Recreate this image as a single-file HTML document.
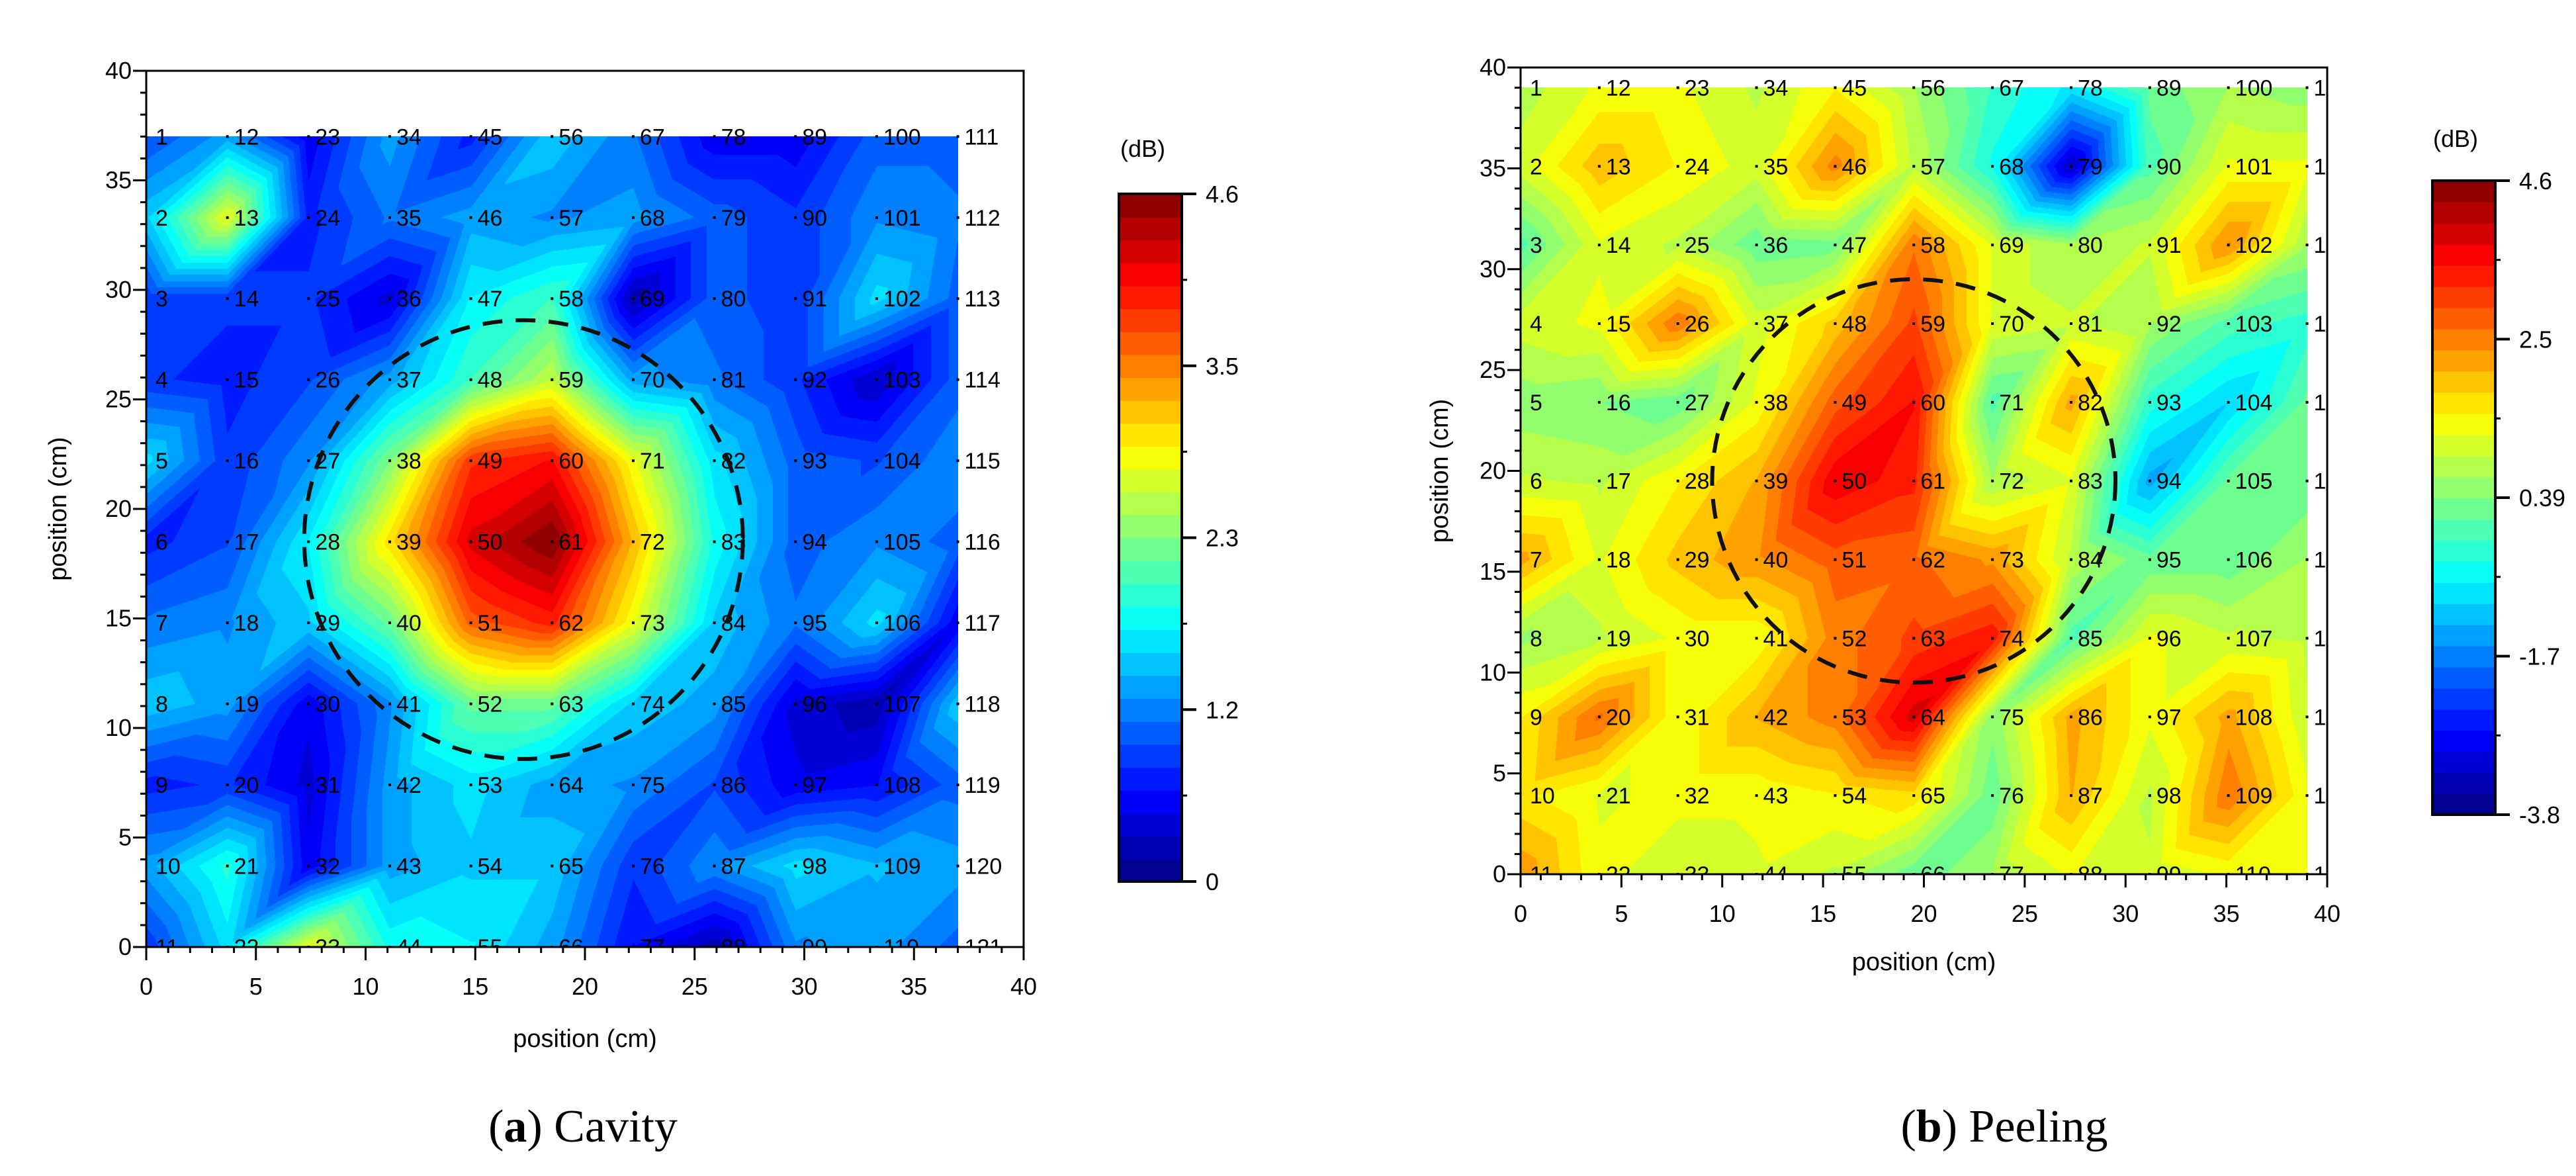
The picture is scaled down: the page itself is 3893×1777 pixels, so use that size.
<!DOCTYPE html>
<html><head><meta charset="utf-8">
<style>
html,body{margin:0;padding:0;background:#fff;}
#wrap{position:relative;width:3893px;height:1777px;overflow:hidden;background:#fff;}
canvas{position:absolute;}
svg{position:absolute;left:0;top:0;}
text{font-family:"Liberation Sans",sans-serif;}
text.cap{font-family:"Liberation Serif",serif;}
</style></head>
<body>
<div id="wrap">
<canvas id="cvA"></canvas>
<canvas id="cvB"></canvas>
<svg id="sv" width="3893" height="1777"></svg>
</div>
<script>
// ---- data: columns (x) of 11 values each, top row (high y) to bottom row (y=0)
const cavityValues = [
 [0.9,1.5,0.8,0.8,1.6,0.7,1.1,1.5,0.7,1.3,0.8],
 [1.3,2.8,0.8,0.7,0.8,0.9,1.2,1.3,0.8,1.9,1.6],
 [0.5,0.7,0.8,0.9,1.2,1.7,1.5,0.5,0.4,0.5,2.8],
 [1.3,1.1,0.4,1.3,2.3,3.0,2.2,1.2,1.3,1.3,1.8],
 [0.7,1.3,1.7,2.0,3.8,4.2,3.6,2.2,1.6,1.5,1.7],
 [1.5,1.2,2.0,2.6,4.0,4.6,3.9,2.2,1.3,1.5,1.3],
 [1.1,1.3,0.2,1.3,2.8,3.2,2.8,1.5,1.2,0.8,0.6],
 [0.5,1.0,1.0,1.1,1.6,1.8,1.5,1.3,0.9,1.2,0.2],
 [0.5,0.8,0.8,0.8,1.0,1.0,1.1,0.4,0.5,1.6,1.2],
 [1.0,1.2,1.6,0.3,0.9,1.2,1.6,0.2,0.6,1.4,1.3],
 [1.0,1.1,1.0,1.0,1.2,1.0,0.5,1.5,1.0,1.3,1.0]
];
const peelingValues = [
 [0.8,1.1,0.0,1.1,0.5,1.0,2.2,0.6,1.5,1.6,2.3],
 [1.3,2.0,1.2,1.3,0.4,0.9,1.2,0.9,2.7,1.2,1.3],
 [1.3,1.5,0.9,2.6,0.2,1.5,1.9,1.3,1.3,1.3,1.1],
 [0.9,1.1,0.2,1.1,1.3,2.1,2.3,1.3,2.1,1.3,1.2],
 [1.5,2.5,0.3,1.9,2.8,3.7,2.8,2.5,2.5,1.5,0.9],
 [0.7,0.9,2.6,3.0,3.5,3.3,2.7,3.0,3.9,1.7,0.2],
 [-0.2,-0.5,1.2,1.2,0.0,0.7,2.3,3.4,0.5,0.2,0.7],
 [-0.8,-3.3,0.7,1.0,2.2,1.2,0.9,0.0,2.2,2.1,1.3],
 [0.2,0.0,1.0,0.7,-0.3,-1.4,0.2,1.3,1.3,0.9,1.0],
 [0.7,1.3,2.4,0.0,-1.0,0.2,0.2,1.0,2.2,2.6,1.3],
 [0.5,1.3,0.7,-0.3,0.2,0.2,0.7,0.9,1.0,1.3,1.3]
];
const axisTicks = [0,5,10,15,20,25,30,35,40];
const cavityBarLabels = ["4.6","3.5","2.3","1.2","0"];
const peelingBarLabels = ["4.6","2.5","0.39","-1.7","-3.8"];
const cavityRange = [0,4.6];
const peelingRange = [-3.8,4.6];
const cavityStep = 3.7, peelingStep = 3.9;
const cavityCircle = [17.2,18.6,10];
const peelingCircle = [19.5,19.5,10];

const NS="http://www.w3.org/2000/svg";
const sv=document.getElementById('sv');
function el(tag,attrs,parent){const e=document.createElementNS(NS,tag);for(const k in attrs)e.setAttribute(k,attrs[k]);(parent||sv).appendChild(e);return e;}
function jet(t){t=Math.max(0,Math.min(1,t));const c=v=>Math.round(255*Math.max(0,Math.min(1,v)));
 return [c(1.5-Math.abs(4*t-3)),c(1.5-Math.abs(4*t-2)),c(1.5-Math.abs(4*t-1))];}
const LEVELS=30;

function plot(cfg){
 const {id,vals,step,range,L,T,R,B,circle,barX,barT,barB,barLabels,dbX,dbY,ylabX,xlabY,caption,capX,prefix}=cfg;
 const sx=v=>L+(R-L)*v/40, sy=v=>B-(B-T)*v/40;
 const n=vals.length, ext=step*(n-1);
 const cv=document.getElementById(id);
 const x0=Math.round(sx(0)), x1=Math.round(sx(ext)), y0=Math.round(sy(ext)), y1=Math.round(sy(0));
 const w=x1-x0, h=y1-y0;
 cv.width=w;cv.height=h;cv.style.left=x0+'px';cv.style.top=y0+'px';
 const ctx=cv.getContext('2d');const img=ctx.createImageData(w,h);
 for(let py=0;py<h;py++){
  const gy=(py+0.5)/h*(n-1); const j=Math.min(n-2,Math.floor(gy)); const fy=gy-j;
  for(let px=0;px<w;px++){
   const gx=(px+0.5)/w*(n-1); const i=Math.min(n-2,Math.floor(gx)); const fx=gx-i;
   let v;
   const a=vals[i][j],b=vals[i+1][j],c=vals[i][j+1],d=vals[i+1][j+1];
   if(fx+fy<=1) v=a+(b-a)*fx+(c-a)*fy; else v=d+(c-d)*(1-fx)+(b-d)*(1-fy);
   let t=(v-range[0])/(range[1]-range[0]); t=Math.floor(t*LEVELS)/LEVELS+0.5/LEVELS;
   const col=jet(t);const k=(py*w+px)*4;
   img.data[k]=col[0];img.data[k+1]=col[1];img.data[k+2]=col[2];img.data[k+3]=255;
  }
 }
 ctx.putImageData(img,0,0);
 const cp=el('clipPath',{id:prefix+'clip'});el('rect',{x:L,y:T,width:R-L,height:B-T},cp);
 const g=el('g',{'clip-path':'url(#'+prefix+'clip)'});
 
 
 for(let i=0;i<n;i++)for(let j=0;j<n;j++){
  const x=sx(step*i), y=sy(ext-step*j), num=i*n+j+1;
  if(i>0){const dot=el('rect',{x:x-2,y:y-2,width:4,height:4,fill:'#000'},g);
   
   }
  const t=el('text',{x:x+(i>0?10:14),y:y+12,'font-size':34,fill:'#000'},g);t.textContent=num;
  
  
 }
 const ci=el('circle',{cx:sx(circle[0]),cy:sy(circle[1]),r:(R-L)*circle[2]/40,fill:'none',stroke:'#111','stroke-width':6,'stroke-dasharray':'30 20'});
 
 
 const fr=el('rect',{x:L,y:T,width:R-L,height:B-T,fill:'none',stroke:'#000','stroke-width':3});
 
 
 for(let v=0;v<=40;v++){
  const maj=v%5===0, len=maj?20:9;
  el('line',{x1:sx(v),x2:sx(v),y1:B,y2:B+len,stroke:'#000','stroke-width':3});
  el('line',{x1:L,x2:L-len,y1:sy(v),y2:sy(v),stroke:'#000','stroke-width':3});
 }
 axisTicks.forEach(v=>{
  const tx=el('text',{x:sx(v),y:B+72,'font-size':36,'text-anchor':'middle'});tx.textContent=v;
  
  
  const ty=el('text',{x:L-22,y:sy(v)+12,'font-size':36,'text-anchor':'end'});ty.textContent=v;
  
  
 });
 const xl=el('text',{x:(L+R)/2,y:xlabY,'font-size':38,'text-anchor':'middle'});xl.textContent='position (cm)';
 
 
 const yl=el('text',{x:0,y:0,'font-size':38,'text-anchor':'middle',transform:`translate(${ylabX},${(T+B)/2}) rotate(-90)`});yl.textContent='position (cm)';
 
 
 const bw=95, bh=barB-barT;
 for(let k=0;k<LEVELS;k++){
  const c=jet((k+0.5)/LEVELS);
  el('rect',{x:barX,y:barB-bh*(k+1)/LEVELS,width:bw,height:bh/LEVELS+1,fill:`rgb(${c})`});
 }
 const cb=el('rect',{x:barX,y:barT,width:bw,height:bh,fill:'none',stroke:'#000','stroke-width':4});
 
 
 barLabels.forEach((lab,k)=>{
  const y=barT+bh*k/(barLabels.length-1);
  el('line',{x1:barX+bw,x2:barX+bw+22,y1:y,y2:y,stroke:'#000','stroke-width':4});
  if(k<barLabels.length-1){const ym=y+bh/(barLabels.length-1)/2;el('line',{x1:barX+bw,x2:barX+bw+8,y1:ym,y2:ym,stroke:'#000','stroke-width':3});}
  const t=el('text',{x:barX+bw+36,y:y+13,'font-size':36});t.textContent=lab;
  
  
 });
 const db=el('text',{x:dbX,y:dbY,'font-size':36});db.textContent='(dB)';
 
 
 const cap=el('text',{x:capX,y:1725,'font-size':70,'text-anchor':'middle','class':'cap'});
 const tb=document.createElementNS(NS,'tspan');tb.textContent='(';cap.appendChild(tb);
 const tb2=document.createElementNS(NS,'tspan');tb2.setAttribute('font-weight','bold');tb2.textContent=caption[0];cap.appendChild(tb2);
 const tb3=document.createElementNS(NS,'tspan');tb3.textContent=') '+caption[1];cap.appendChild(tb3);
 
 
}
plot({id:'cvA',vals:cavityValues,step:cavityStep,range:cavityRange,L:221,T:107,R:1547,B:1431,circle:cavityCircle,
 barX:1691,barT:293,barB:1332,barLabels:cavityBarLabels,dbX:1693,dbY:237,ylabX:100,xlabY:1582,caption:['a','Cavity'],capX:881,prefix:'cavity-'});
plot({id:'cvB',vals:peelingValues,step:peelingStep,range:peelingRange,L:2298,T:102,R:3517,B:1321,circle:peelingCircle,
 barX:3676,barT:273,barB:1231,barLabels:peelingBarLabels,dbX:3677,dbY:222,ylabX:2188,xlabY:1466,caption:['b','Peeling'],capX:3029,prefix:'peeling-'});
</script>
</body></html>
